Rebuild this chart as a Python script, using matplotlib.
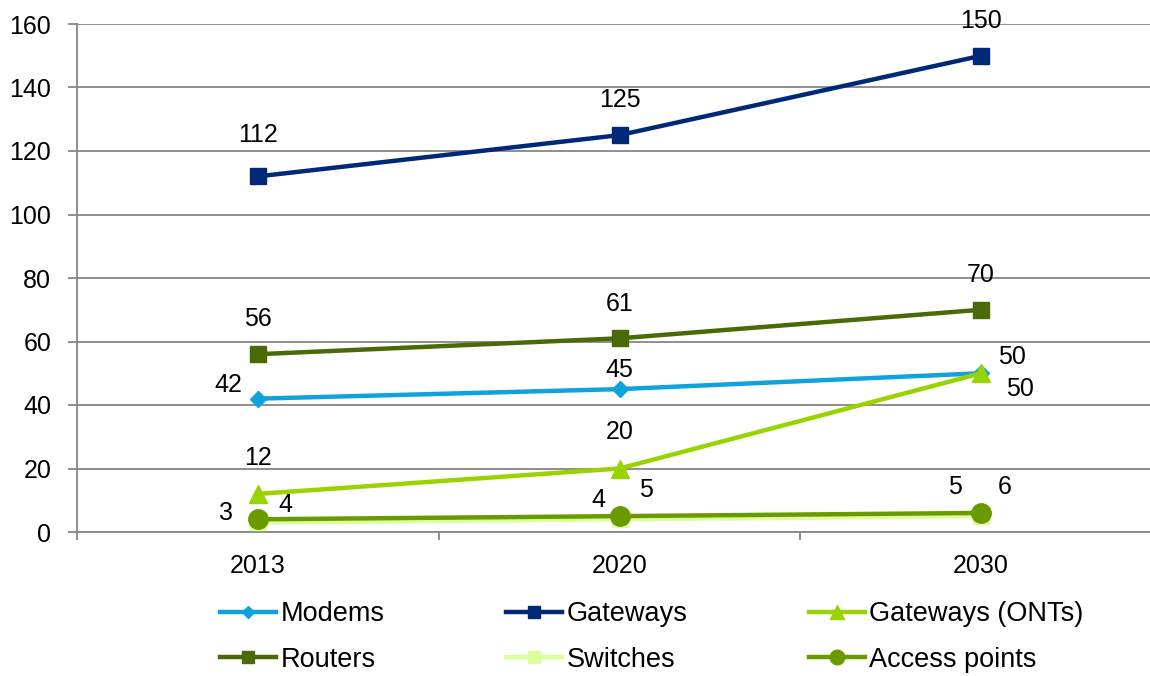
import matplotlib
matplotlib.use("Agg")
import matplotlib.pyplot as plt

# Device counts per year (millions)
years = ["2013", "2020", "2030"]
modems = [42, 45, 50]
gateways = [112, 125, 150]
gateways_onts = [12, 20, 50]
routers = [56, 61, 70]
switches = [3, 4, 5]
access_points = [4, 5, 6]

plt.rcParams["font.family"] = ["Liberation Sans", "DejaVu Sans"]
FS = 18

# name, values, color, marker, markersize, label offsets (points)
series = [
    ("Modems", modems, "#0FA2DC", "D", 8,
     [(-21, 10), (0, 14), (22, 12)]),
    ("Gateways", gateways, "#002878", "s", 12,
     [(0, 30), (0, 25), (0, 25)]),
    ("Gateways (ONTs)", gateways_onts, "#99D400", "^", 13,
     [(0, 26), (0, 26), (28, -11)]),
    ("Routers", routers, "#4A6A08", "s", 12,
     [(0, 25), (0, 25), (0, 25)]),
    ("Switches", switches, "#DCFF99", "s", 12,
     [(-23, 7), (-15, 14), (-19, 21)]),
    ("Access points", access_points, "#6B9A00", "o", 14,
     [(20, 10), (19, 19), (17, 19)]),
]

fig = plt.figure(figsize=(11.5, 6.76), dpi=100)
ax = fig.add_axes([77 / 1150, 144 / 676, 1085 / 1150, 508 / 676])

x = list(range(len(years)))
handles = []
for name, vals, color, marker, ms, offsets in series:
    line, = ax.plot(x, vals, color=color, linewidth=3.2, marker=marker,
                    markersize=ms, markeredgecolor=color, label=name,
                    zorder=3, clip_on=False)
    handles.append(line)
    for xi, v, off in zip(x, vals, offsets):
        ax.annotate(str(v), (xi, v), xytext=off, textcoords="offset points",
                    ha="center", va="center", fontsize=FS, zorder=4)

ax.set_xlim(-0.5, 2.5)
ax.set_ylim(0, 160)
ax.set_yticks(range(0, 161, 20))
ax.set_xticks(x)
ax.set_xticklabels(years)
ax.set_xticks([-0.5, 0.5, 1.5, 2.5], minor=True)

ax.grid(axis="y", color="#868686", linewidth=1.3, zorder=0)
ax.set_axisbelow(True)
for side in ("top", "right"):
    ax.spines[side].set_visible(False)
for side in ("left", "bottom"):
    ax.spines[side].set_color("#868686")
    ax.spines[side].set_linewidth(1.3)

ax.tick_params(axis="y", length=6.5, width=1.3, color="#868686",
               labelsize=FS, pad=12)
ax.tick_params(axis="x", which="major", length=0, labelsize=FS, pad=16)
ax.tick_params(axis="x", which="minor", length=6, width=1.3,
               color="#868686")

# legend fills column by column, so reorder to read row by row
order = [0, 3, 1, 4, 2, 5]
fig.legend([handles[i] for i in order], [series[i][0] for i in order],
           loc="center", bbox_to_anchor=(652 / 1150, 1 - 637 / 676),
           ncol=3, frameon=False, fontsize=19.5, handlelength=2.07,
           handletextpad=0.15, columnspacing=4.5, labelspacing=0.72,
           markerscale=0.75, borderaxespad=0, borderpad=0)

fig.savefig("out.png", dpi=100)
